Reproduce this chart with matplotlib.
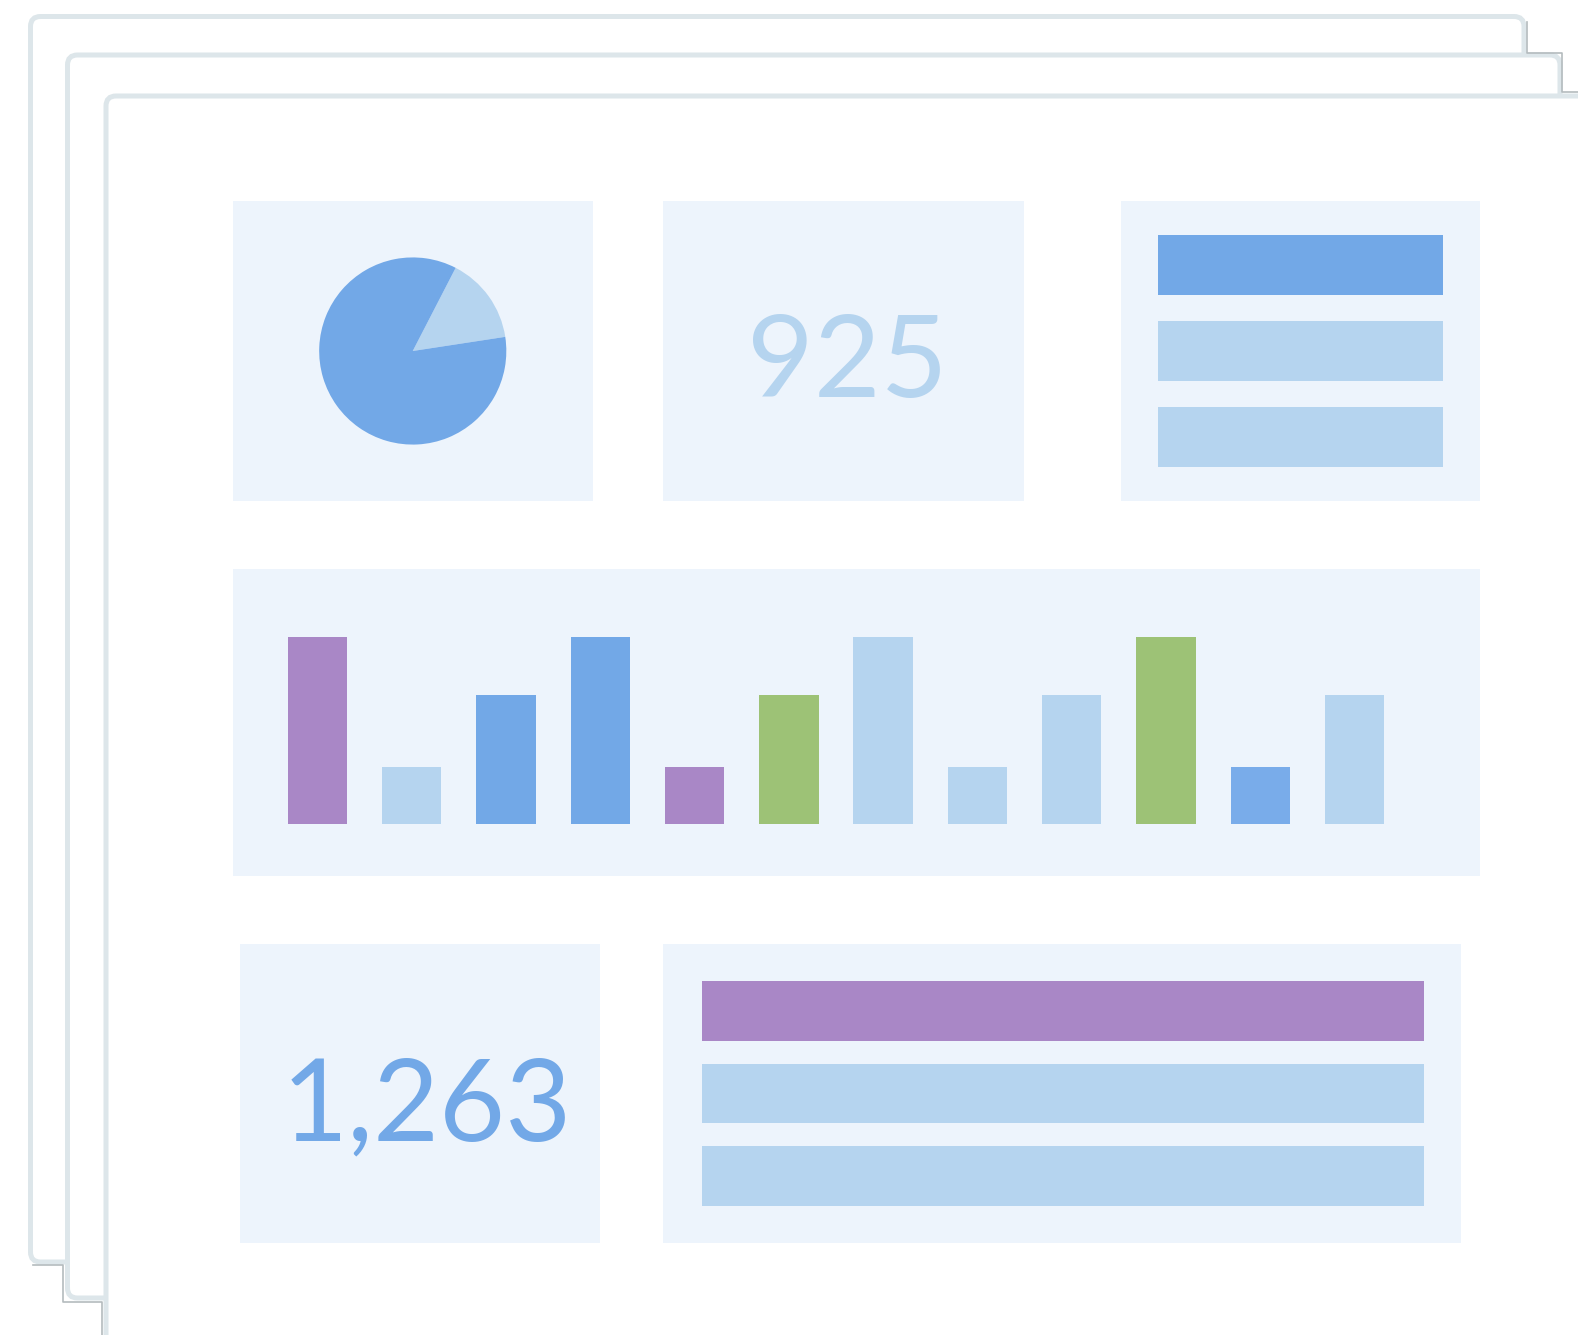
import matplotlib.pyplot as plt
from matplotlib.patches import FancyBboxPatch

# Figure size in pixels (dpi 100)
W, H = 1578, 1335

# Data
pie_values = [15, 85]
pie_colors = ['#b5d4ef', '#72a8e7']

kpi_top = '925'
kpi_bottom = '1,263'

bar_values = [3.25, 1, 2.25, 3.25, 1, 2.25, 3.25, 1, 2.25, 3.25, 1, 2.25]
bar_colors = ['#a987c6', '#b5d4ef', '#72a8e7', '#72a8e7', '#a987c6', '#9dc276',
              '#b5d4ef', '#b5d4ef', '#b5d4ef', '#9dc276', '#79acea', '#b5d4ef']

list_top_values = [1, 1, 1]
list_top_colors = ['#72a8e7', '#b5d4ef', '#b5d4ef']
list_bottom_values = [1, 1, 1]
list_bottom_colors = ['#a987c6', '#b5d4ef', '#b5d4ef']

panel_bg = '#edf4fc'
frame_edge = '#dde6ea'
shadow = '#b4bbbe'

fig = plt.figure(figsize=(W / 100, H / 100), dpi=100)
fig.patch.set_facecolor('white')

# background axes in pixel coordinates for the stacked "cards"
bg = fig.add_axes([0, 0, 1, 1])
bg.set_xlim(0, W)
bg.set_ylim(H, 0)
bg.axis('off')

frames = [(30.5, 16.5, 1524, 1262), (67.5, 55, 1560, 1298), (106, 96, 1750, 1500)]
for x0, y0, x1, y1 in frames:
    bg.add_patch(FancyBboxPatch((x0, y0), x1 - x0, y1 - y0,
                                boxstyle='round,pad=0,rounding_size=10',
                                facecolor='white', edgecolor=frame_edge, linewidth=3.6))

# thin darker step lines where the cards overlap
bg.plot([1527, 1527, 1562, 1562, W], [22, 52.5, 52.5, 92, 92], color=shadow, lw=1.2)
bg.plot([33, 63.5, 63.5, 102, 102], [1265, 1265, 1302, 1302, H], color=shadow, lw=1.2)


def panel(x0, y0, x1, y1):
    ax = fig.add_axes([x0 / W, 1 - y1 / H, (x1 - x0) / W, (y1 - y0) / H])
    ax.set_facecolor(panel_bg)
    ax.set_xticks([])
    ax.set_yticks([])
    for s in ax.spines.values():
        s.set_visible(False)
    return ax


# pie panel
ax = panel(232.5, 201, 593, 501)
ax.pie(pie_values, colors=pie_colors, startangle=8.7, radius=1,
       wedgeprops={'linewidth': 0})
ax.set_frame_on(True)
for s in ax.spines.values():
    s.set_visible(False)
ax.set_facecolor(panel_bg)
ax.set_xlim(-1.923, 1.923)
ax.set_ylim(-1.603, 1.603)

# single number panel
ax = panel(663, 201, 1024, 501)
ax.text(0.51, 0.348, kpi_top, transform=ax.transAxes, ha='center', va='baseline',
        fontsize=83, color='#b5d4ef', family=['Lato', 'DejaVu Sans'])

# list panel top right
ax = panel(1121, 201, 1480, 501)
ax.barh(range(len(list_top_values)), list_top_values, height=0.69,
        color=list_top_colors, left=0)
ax.set_xlim(-0.13, 1.13)
ax.set_ylim(2.744, -0.744)

# bar chart panel
ax = panel(232.5, 568.5, 1480, 876)
ax.bar(range(len(bar_values)), bar_values, width=0.63, color=bar_colors)
ax.set_xlim(-0.9, 12.33)
ax.set_ylim(-0.9, 4.45)

# bottom number panel
ax = panel(239.5, 944, 600, 1243)
ax.text(0.52, 0.344, kpi_bottom, transform=ax.transAxes, ha='center', va='baseline',
        fontsize=82, color='#72a8e7', family=['Lato', 'DejaVu Sans'])

# list panel bottom right
ax = panel(663, 944, 1461, 1243)
ax.barh(range(len(list_bottom_values)), list_bottom_values, height=0.72,
        color=list_bottom_colors)
ax.set_xlim(-0.0533, 1.051)
ax.set_ylim(2.81, -0.81)

fig.savefig('out.png', dpi=100, facecolor='white')
